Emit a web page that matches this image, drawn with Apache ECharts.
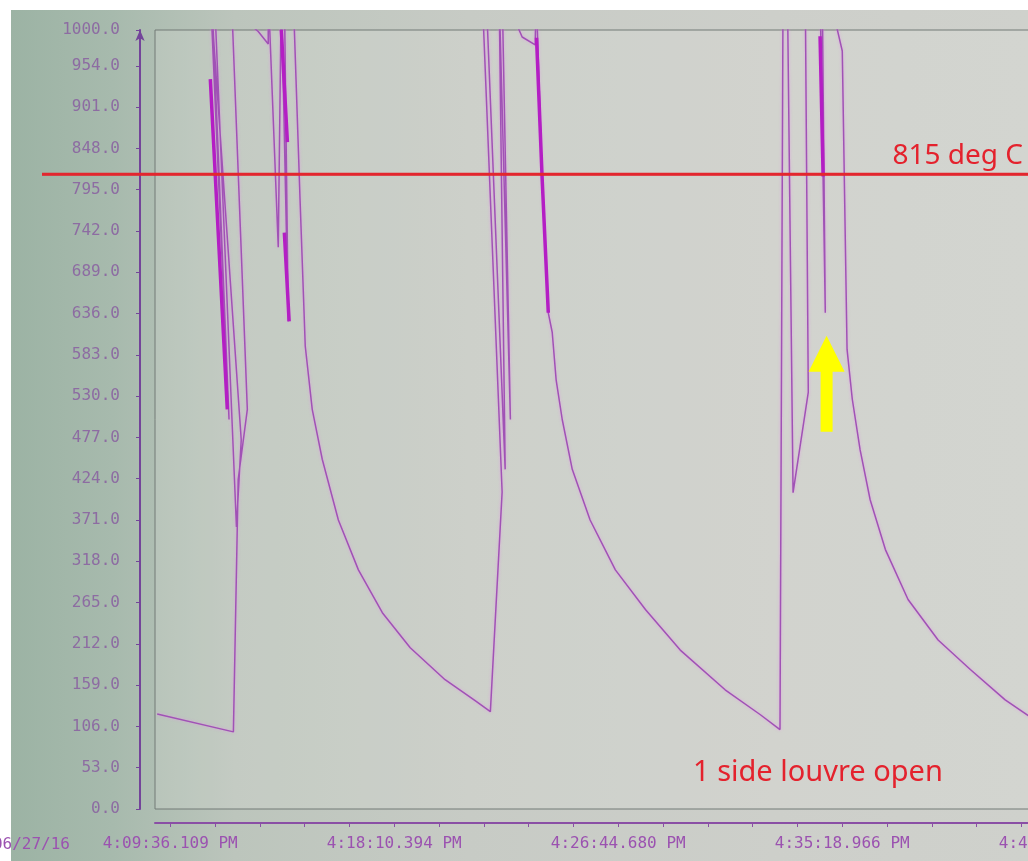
<!DOCTYPE html>
<html>
<head>
<meta charset="utf-8">
<title>Furnace temperature trend</title>
<script src="https://cdn.jsdelivr.net/npm/echarts@6/dist/echarts.min.js"></script>
<style>
  html, body { margin: 0; padding: 0; background: #fff; }
  #chart { width: 1028px; height: 861px; }
</style>
</head>
<body>
<div id="chart"></div>
<script>
// time axis: seconds after 4:09:36.109 PM; values in deg C
const tickStep = 514.2855;
const tickTimes = [0, 514.2855, 1028.571, 1542.8565, 2057.142];
const tickLabels = ['4:09:36.109 PM', '4:18:10.394 PM', '4:26:44.680 PM', '4:35:18.966 PM', '4:43:53.252 PM'];
const dateLabel = '06/27/16';

// main thermocouple trace (1050 = off scale at the top)
const tempTrace = [
  [-30, 122], [145, 99], [156, 423], [177, 513], [140, 1050], [101, 1050], [152, 362], [163, 474],
  [92, 1050], [135, 500], [95, 1050],
  [202, 998], [225, 982], [225, 1050], [248, 721], [255, 1050], [271, 626], [262, 1050], [282, 1050],
  [298, 783], [310, 594], [326, 513], [349, 449], [386, 371], [432, 307], [487, 252], [551, 207],
  [631, 166], [700, 139], [735, 125],
  [762, 407], [716, 1050], [725, 1050], [769, 436], [755, 1050], [781, 500], [762, 1050],
  [808, 991], [838, 981], [840, 1050], [854, 808], [868, 637], [877, 612],
  [886, 551], [900, 500], [923, 436], [964, 371], [1022, 307], [1091, 256], [1171, 204],
  [1274, 153], [1355, 121], [1400, 102],
  [1407, 1050], [1417, 1050], [1430, 406], [1465, 535], [1458, 1050], [1492, 1050], [1504, 637],
  [1497, 1050], [1511, 1050], [1543, 973], [1554, 590],
  [1566, 526], [1584, 461], [1607, 397], [1642, 333], [1694, 269], [1763, 217], [1837, 179],
  [1917, 140], [1970, 120], [2043, 104]
];

// heavier, overplotted stretches of the trace
const boldTrace = [
  [92, 937], [131, 513], '-',
  [255, 1000], [269, 856], '-',
  [262, 740], [273, 626], '-',
  [841, 990], [854, 808], [868, 637], '-',
  [1492, 992], [1499, 812]
];

const threshold = 815;
const noteText = '1 side louvre open';
const arrowAt = [1507, 546];

const minorTicks = [];
for (let k = 0; k * tickStep / 5 <= 2160; k++) minorTicks.push(k * tickStep / 5);

const chart = echarts.init(document.getElementById('chart'));
chart.setOption({
  animation: false,
  graphic: [{
    type: 'rect',
    z: -10,
    silent: true,
    shape: { x: 11, y: 10, width: 1017, height: 851 },
    style: {
      fill: {
        type: 'linear', x: 0, y: 0, x2: 1, y2: 0,
        colorStops: [
          { offset: 0, color: '#9cb3a4' },
          { offset: 0.1, color: '#a7baad' },
          { offset: 0.22, color: '#bcc5bc' },
          { offset: 0.45, color: '#c7cbc5' },
          { offset: 0.75, color: '#cdcfca' },
          { offset: 1, color: '#cfd1cc' }
        ]
      }
    }
  }],
  title: {
    text: noteText,
    left: 693,
    top: 758,
    padding: 0,
    textStyle: { color: '#e4222d', fontSize: 29, fontWeight: 'normal', fontFamily: 'Noto Sans' }
  },
  grid: [
    { left: 155, right: -83, top: 30, bottom: 52, outerBoundsMode: 'none', containLabel: false,
      show: true, borderColor: '#737b76', borderWidth: 1, backgroundColor: 'rgba(232,234,228,0.18)' },
    { left: 42, right: 0, top: 30, bottom: 52, outerBoundsMode: 'none', containLabel: false }
  ],
  xAxis: [
    {
      type: 'value', gridIndex: 0, min: -35, max: 2160, offset: 14,
      name: dateLabel, nameLocation: 'start', nameGap: 85,
      nameTextStyle: { fontFamily: 'DejaVu Sans Mono', fontSize: 16, color: '#9b52b0',
        verticalAlign: 'top', padding: [14, 0, 0, 0] },
      axisLine: { onZero: false, lineStyle: { color: '#8a4fa5', width: 2 } },
      axisTick: { show: true, length: 4, customValues: minorTicks, lineStyle: { color: '#8a4fa5' } },
      axisLabel: {
        customValues: tickTimes,
        formatter: function (v) {
          const i = tickTimes.findIndex(function (t) { return Math.abs(t - v) < 1; });
          return i >= 0 ? tickLabels[i] : '';
        },
        margin: 13, fontFamily: 'DejaVu Sans Mono', fontSize: 16, color: '#9b52b0'
      },
      splitLine: { show: false }
    },
    { type: 'value', gridIndex: 1, min: 0, max: 1, show: false }
  ],
  yAxis: [
    {
      type: 'value', gridIndex: 0, min: 0, max: 1000, interval: 53, offset: 15,
      axisLine: { show: true, onZero: false, symbol: ['none', 'arrow'], symbolSize: [7, 11],
        lineStyle: { color: '#73449a', width: 2 } },
      axisTick: { show: true, length: 4, lineStyle: { color: '#73449a' } },
      axisLabel: {
        formatter: function (v) { return v.toFixed(1); },
        margin: 20, fontFamily: 'DejaVu Sans Mono', fontSize: 16, color: '#8d6ca2'
      },
      splitLine: { show: false }
    },
    { type: 'value', gridIndex: 1, min: 0, max: 1000, show: false }
  ],
  series: [
    {
      name: 'trace',
      type: 'line',
      xAxisIndex: 0, yAxisIndex: 0,
      data: tempTrace,
      showSymbol: false,
      silent: true,
      z: 3,
      lineStyle: { color: '#a052b5', width: 1.5, shadowBlur: 3, shadowColor: 'rgba(230,140,235,0.7)' },
      markPoint: {
        silent: true,
        symbol: 'path://M18,0 L36,36 L24,36 L24,96 L12,96 L12,36 L0,36 Z',
        symbolSize: [36, 96],
        symbolKeepAspect: false,
        itemStyle: { color: '#ffff00' },
        label: { show: false },
        data: [{ coord: arrowAt }]
      }
    },
    {
      name: 'bold',
      type: 'line',
      xAxisIndex: 0, yAxisIndex: 0,
      data: boldTrace,
      showSymbol: false,
      connectNulls: false,
      silent: true,
      z: 4,
      lineStyle: { color: '#b41ec4', width: 3.5 }
    },
    {
      name: 'limit',
      type: 'line',
      xAxisIndex: 1, yAxisIndex: 1,
      data: [[0, threshold], [1, threshold]],
      showSymbol: false,
      silent: true,
      z: 5,
      lineStyle: { color: '#e3262e', width: 2.5 },
      markLine: {
        silent: true,
        symbol: 'none',
        lineStyle: { color: '#e3262e', width: 2.5, type: 'solid' },
        label: {
          show: true,
          position: 'insideEndTop',
          distance: [5, 4],
          formatter: threshold + ' deg C',
          color: '#e4222d', fontSize: 28, fontFamily: 'Noto Sans'
        },
        data: [{ yAxis: threshold }]
      }
    }
  ]
});
</script>
</body>
</html>
